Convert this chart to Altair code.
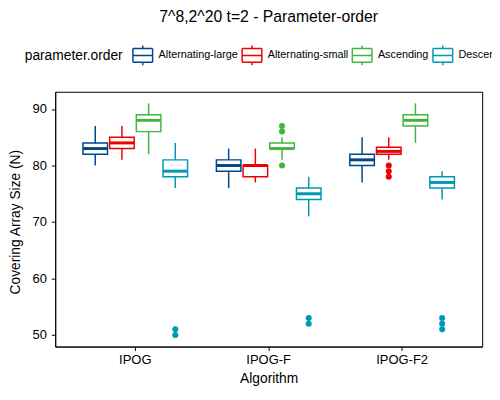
import altair as alt
import pandas as pd

algorithms = ["IPOG", "IPOG-F", "IPOG-F2"]
orders = ["Alternating-large", "Alternating-small", "Ascending", "Descending"]
colors = ["#00468B", "#ED0000", "#42B540", "#0099B4"]

# one value per box: algorithm-major, orders as listed above
box_alg = [a for a in algorithms for _ in orders]
box_order = orders * len(algorithms)
whisker_low = [80, 81, 82, 76, 76, 77, 81, 71, 77, 81, 84, 74]
q1 = [82, 83, 86, 78, 79, 78, 83, 74, 80, 82, 87, 76]
median = [83, 84, 88, 79, 80, 80, 83, 75, 81, 82.5, 88, 77]
q3 = [84, 85, 89, 81, 81, 80, 84, 76, 82, 83.25, 89, 78]
whisker_high = [87, 87, 91, 84, 83, 83, 85, 78, 85, 85, 91, 79]

out_alg = ["IPOG", "IPOG", "IPOG-F", "IPOG-F", "IPOG-F", "IPOG-F", "IPOG-F",
           "IPOG-F2", "IPOG-F2", "IPOG-F2", "IPOG-F2", "IPOG-F2", "IPOG-F2"]
out_order = ["Descending", "Descending", "Ascending", "Ascending", "Ascending",
             "Descending", "Descending", "Alternating-small", "Alternating-small",
             "Alternating-small", "Descending", "Descending", "Descending"]
out_value = [50, 51, 86, 87, 80, 52, 53, 78, 79, 80, 51, 52, 53]

boxes = pd.DataFrame({
    "Algorithm": box_alg, "order": box_order,
    "low": whisker_low, "q1": q1, "median": median, "q3": q3, "high": whisker_high,
})
outliers = pd.DataFrame({"Algorithm": out_alg, "order": out_order, "value": out_value})

FONT = "Liberation Sans"
y_title = "Covering Array Size (N)"
y_scale = alt.Scale(domain=[47.95, 93.05], nice=False, zero=False)
c_scale = alt.Scale(domain=orders, range=colors)

x_enc = alt.X(
    "Algorithm:N", sort=algorithms, title="Algorithm",
    scale=alt.Scale(paddingInner=0.2, paddingOuter=0.2),
    axis=alt.Axis(labelAngle=0, labelPadding=3, titleY=26, titleBaseline="top"),
)
xoff_enc = alt.XOffset(
    "order:N", sort=orders,
    scale=alt.Scale(paddingInner=0.08, paddingOuter=0.04),
)
# box key drawn as separate straight segments, so no fill can show inside it
box_symbol = ("M-1,-0.7H1M1,-0.7V0.7M1,0.7H-1M-1,0.7V-0.7"
              "M-1,0H1M0,-0.7V-1M0,0.7V1")
stroke_enc = alt.Stroke(
    "order:N", scale=c_scale, title="parameter.order",
    legend=alt.Legend(symbolType=box_symbol, symbolFillColor="white"),
)
fill_enc = alt.Fill("fill_group:N", scale=c_scale, legend=None)

base = alt.Chart(boxes).encode(x=x_enc, xOffset=xoff_enc)

whiskers = base.mark_rule(strokeWidth=1.5).encode(
    y=alt.Y("low:Q", scale=y_scale, title=y_title,
            axis=alt.Axis(values=[50, 60, 70, 80, 90], titleX=-33, titleY=132)),
    y2="high:Q",
    stroke=stroke_enc,
)

box = base.mark_bar(fill="white", strokeWidth=1.5).encode(
    y=alt.Y("q1:Q", scale=y_scale, title=y_title),
    y2="q3:Q",
    stroke=stroke_enc,
)

med = base.mark_tick(thickness=3, size=25, opacity=1).transform_calculate(
    fill_group="datum.order"
).encode(
    y=alt.Y("median:Q", scale=y_scale, title=y_title),
    fill=fill_enc,
)

points = alt.Chart(outliers).mark_circle(size=38, opacity=1).transform_calculate(
    fill_group="datum.order"
).encode(
    x=x_enc, xOffset=xoff_enc, fill=fill_enc,
    y=alt.Y("value:Q", scale=y_scale, title=y_title),
)

chart = (
    alt.layer(whiskers, box, med, points)
    .properties(
        width=434, height=259,
        title=alt.Title("7^8,2^20 t=2 - Parameter-order", fontSize=16,
                        fontWeight="normal", font=FONT, anchor="middle",
                        frame="group", color="black", dy=-16),
        autosize=alt.AutoSizeParams(type="none"),
        padding={"left": 48, "top": 82, "right": 10, "bottom": 43},
    )
    .configure_view(stroke="black", strokeWidth=1)
    .configure_axis(
        grid=False, domainColor="black", domainWidth=1, tickColor="black",
        tickSize=4, labelColor="black", labelFont=FONT, labelFontSize=13.2,
        titleFont=FONT, titleFontSize=14, titleFontWeight="normal",
        titleColor="black", labelPadding=5,
    )
    .configure_legend(
        orient="none", legendX=-31, legendY=-48, direction="horizontal",
        titleOrient="left", titleFont=FONT, titleFontSize=14,
        titleFontWeight="normal", titleColor="black", titlePadding=9,
        labelFont=FONT, labelFontSize=11, labelColor="black", labelOffset=5,
        columnPadding=1, symbolSize=400, symbolStrokeWidth=1.5,
    )
)

chart.save("out.html", embed_options={"renderer": "svg", "actions": False})
